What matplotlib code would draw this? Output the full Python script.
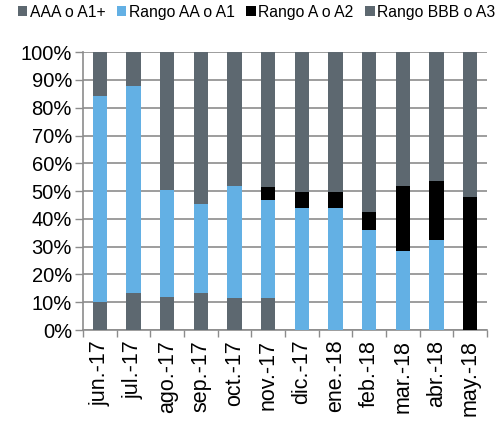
import numpy as np
import matplotlib
matplotlib.use("Agg")
import matplotlib.pyplot as plt
from matplotlib.ticker import FixedLocator

plt.rcParams['font.family'] = ['Liberation Sans', 'DejaVu Sans']

# data (shares in %)
months = ['jun.-17', 'jul.-17', 'ago.-17', 'sep.-17', 'oct.-17', 'nov.-17',
          'dic.-17', 'ene.-18', 'feb.-18', 'mar.-18', 'abr.-18', 'may.-18']
aaa = [10.2, 13.2, 11.9, 13.4, 11.6, 11.6, 0, 0, 0, 0, 0, 0]
aa = [73.9, 74.7, 38.6, 31.9, 40.1, 35.3, 44.1, 44.1, 35.9, 28.4, 32.5, 0]
a = [0, 0, 0, 0, 0, 4.6, 5.6, 5.6, 6.5, 23.3, 21.2, 47.9]
bbb = [100 - (w + x + y) for w, x, y in zip(aaa, aa, a)]

labels = ['AAA o A1+', 'Rango AA o A1', 'Rango A o A2', 'Rango BBB o A3']
colors = ['#5D6870', '#63B0E4', '#000000', '#5D6870']

fig = plt.figure(figsize=(5, 4.21), dpi=100)
ax = fig.add_axes([0.166, 0.216, 0.808, 0.660])

x = np.arange(len(months))
bottom = np.zeros(len(months))
handles = []
for vals, col, lab in zip([aaa, aa, a, bbb], colors, labels):
    h = ax.bar(x, vals, width=0.43, bottom=bottom, color=col, label=lab, zorder=3)
    handles.append(h)
    bottom += np.array(vals)

ax.set_xlim(-0.5, len(months) - 0.5)
ax.set_ylim(0, 100)
ax.set_yticks(range(0, 101, 10))
ax.set_yticklabels([f'{v}%' for v in range(0, 101, 10)], fontsize=14.5)
ax.set_xticks(x)
ax.set_xticklabels(months, rotation=90, fontsize=15.5)
ax.xaxis.set_minor_locator(FixedLocator(np.arange(-0.5, len(months), 1)))
ax.tick_params(axis='x', which='major', length=0, pad=7)
ax.tick_params(axis='x', which='minor', length=5, color='#8c8c8c', width=1)
ax.tick_params(axis='y', length=6, color='#8c8c8c', width=1, pad=2)

ax.grid(axis='y', color='#8c8c8c', linewidth=1.2, zorder=0)
for s in ['top', 'right']:
    ax.spines[s].set_visible(False)
for s in ['left', 'bottom']:
    ax.spines[s].set_color('#8c8c8c')
    ax.spines[s].set_linewidth(1.2)

fig.legend(handles, labels, loc='center', bbox_to_anchor=(0.513, 0.971), ncol=4,
           frameon=False, fontsize=11.3, handlelength=0.6, handleheight=0.6,
           handletextpad=0.15, columnspacing=0.75, borderaxespad=0, borderpad=0)

fig.savefig('out.png', dpi=100)
